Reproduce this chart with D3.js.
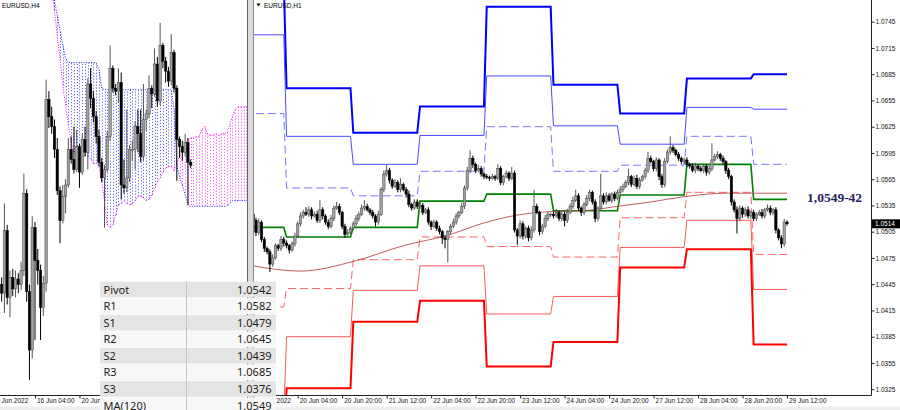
<!DOCTYPE html>
<html><head><meta charset="utf-8">
<script src="https://cdn.jsdelivr.net/npm/d3@7"></script>
<style>body{margin:0;background:#fff;}svg{display:block;}</style>
</head><body>
<svg id="c" width="900" height="410"></svg>
<script>
// ---------- DATA ----------
// H1 EURUSD, 17 Jun 12:00 .. 29 Jun 12:00 (193 bars)
const h1Open0 = 1.0525;
const h1Close = [
1.0518,1.0504,1.0516,1.0496,1.0486,1.0482,1.0468,1.0475,1.0489,1.0486,1.0496,1.0492,
1.0489,1.0484,1.0491,1.0500,1.0514,1.0523,1.0527,1.0525,1.0530,1.0523,1.0525,1.0518,1.0530,1.0523,1.0516,1.0511,1.0520,1.0532,1.0534,1.0527,1.0511,1.0502,1.0504,1.0509,
1.0514,1.0520,1.0525,1.0532,1.0534,1.0530,1.0527,1.0523,1.0516,1.0525,1.0553,1.0571,1.0575,1.0564,1.0557,1.0561,1.0553,1.0559,1.0553,1.0548,1.0536,1.0532,1.0539,1.0534,
1.0535,1.0527,1.0530,1.0516,1.0511,1.0516,1.0509,1.0505,1.0498,1.0496,1.0505,1.0511,1.0516,1.0523,1.0527,1.0534,1.0555,1.0575,1.0589,1.0582,1.0575,1.0577,1.0571,1.0568,
1.0567,1.0566,1.0568,1.0566,1.0577,1.0561,1.0568,1.0572,1.0566,1.0572,1.0507,1.0500,1.0514,1.0500,1.0509,1.0498,1.0507,1.0534,1.0527,1.0505,1.0511,1.0520,1.0525,1.0525,
1.0523,1.0527,1.0520,1.0525,1.0518,1.0527,1.0534,1.0541,1.0546,1.0532,1.0527,1.0536,1.0543,1.0550,1.0539,1.0520,1.0532,1.0546,1.0539,1.0546,1.0541,1.0548,1.0543,1.0550,
1.0553,1.0557,1.0561,1.0568,1.0559,1.0566,1.0557,1.0564,1.0568,1.0575,1.0589,1.0585,1.0577,1.0587,1.0568,1.0559,1.0585,1.0596,1.0601,1.0598,1.0593,1.0589,1.0585,1.0587,
1.0582,1.0580,1.0575,1.0580,1.0577,1.0575,1.0580,1.0573,1.0577,1.0587,1.0591,1.0593,1.0589,1.0585,1.0575,1.0568,1.0539,1.0530,1.0520,1.0532,1.0525,1.0530,1.0523,1.0527,
1.0520,1.0525,1.0527,1.0523,1.0530,1.0532,1.0527,1.0530,1.0507,1.0498,1.0491,1.0516,1.0514];
// upper / lower wick lengths in pips
const h1WickUp = [
8,3,4,2,3,2,3,4,3,2,4,3,
3,2,3,4,3,4,3,6,4,3,3,4,11,3,2,3,4,3,5,3,2,3,4,2,
3,4,3,4,7,3,2,3,2,4,3,4,7,3,2,4,3,7,2,3,4,2,3,3,
4,3,2,3,2,3,2,3,2,3,2,3,4,3,2,4,3,4,9,3,2,4,3,2,
3,2,3,2,5,3,2,3,2,7,3,2,4,3,2,3,4,19,3,2,3,4,3,2,
3,4,2,3,3,4,3,4,7,3,2,3,4,3,2,3,2,25,3,4,3,2,3,3,
4,3,3,9,2,3,4,3,2,3,7,3,2,3,2,3,4,3,13,3,2,3,2,3,
3,2,3,4,2,3,3,2,4,19,3,4,2,3,2,3,2,3,4,3,2,3,4,2,
3,2,3,4,2,4,3,2,3,2,3,4,2];
const h1WickDn = [
3,4,3,3,4,3,9,3,2,3,3,4,
3,4,2,3,2,3,3,2,3,4,2,3,3,4,3,3,2,3,2,3,3,4,3,2,
2,3,3,2,3,2,3,3,5,3,2,3,3,4,3,2,3,3,2,4,3,3,2,3,
3,3,2,3,4,2,3,3,7,10,26,3,2,3,3,2,3,3,3,4,3,2,3,3,
2,3,2,3,2,3,3,2,3,2,3,10,3,4,3,4,3,3,2,4,3,2,3,3,
3,2,3,3,7,3,2,3,2,3,4,3,2,3,3,4,3,2,3,3,2,3,3,2,
3,3,2,3,3,2,3,3,2,3,3,2,3,3,4,4,3,2,3,3,2,3,3,3,
3,3,2,3,3,2,3,4,3,3,2,3,3,3,4,3,4,3,17,3,4,3,3,4,
3,3,2,3,3,2,3,3,4,3,5,3,2];

// daily pivot levels (day 0 = 17 Jun ... day 8 = 29 Jun)
const dayStart = [-12, 12, 36, 60, 84, 108, 132, 156, 180];
const dayEnd   = [ 11, 35, 59, 83, 107, 131, 155, 179, 192];
const R3 = [1.0790,1.0669,1.0618,1.0648,1.0762,1.0673,1.0640,1.0680,1.0685];
const R2 = [1.0730,1.0614,1.0582,1.0615,1.0683,1.0626,1.0605,1.0647,1.0645];
const R1 = [1.0640,1.0555,1.0546,1.0574,1.0625,1.0574,1.0581,1.0614,1.0582];
const PV = [1.0510,1.0499,1.0510,1.0540,1.0548,1.0529,1.0547,1.0582,1.0542];
const S1 = [1.0419,1.0440,1.0473,1.0499,1.0488,1.0476,1.0521,1.0550,1.0479];
const S2 = [1.0300,1.0385,1.0438,1.0466,1.0411,1.0431,1.0487,1.0518,1.0439];
const S3 = [1.0240,1.0326,1.0402,1.0426,1.0351,1.0379,1.0464,1.0485,1.0376];

// MA(120) knots (bar index, value)
const maIdx = [0, 8, 17, 36, 54, 70, 83, 95, 107, 119, 131, 143, 155, 170, 192];
const maVal = [1.0466,1.0462,1.0460,1.0471,1.0489,1.0501,1.0515,1.0524,1.0528,1.0529,1.0534,1.0539,1.0545,1.0549,1.0549];

const priceTicks = [1.0745,1.0715,1.0685,1.0655,1.0625,1.0595,1.0565,1.0535,1.0505,1.0475,1.0445,1.0415,1.0385,1.0355,1.0325];
const labelIdxR = [0,16,32,48,64,80,96,112,128,144,160,176,192];
const labelsR = ['17 Jun 2022','20 Jun 04:00','20 Jun 20:00','21 Jun 12:00','22 Jun 04:00','22 Jun 20:00','23 Jun 12:00','24 Jun 04:00','24 Jun 20:00','27 Jun 12:00','28 Jun 04:00','28 Jun 20:00','29 Jun 12:00'];
const lastPrice = 1.0514;

// H4 bars before 17 Jun 12:00 (k = -12 .. 7, k=0 is 16 Jun 04:00)
const h4Open  = [1.0430,1.0424,1.0468,1.0421,1.0435,1.0427,1.0434,1.0430,1.0440,1.0494,1.0425,1.0384,1.0470,1.0447,1.0440,1.0414,1.0431,1.0560,1.0548,1.0541];
const h4High  = [1.0435,1.0487,1.0472,1.0440,1.0441,1.0440,1.0438,1.0446,1.0508,1.0497,1.0430,1.0478,1.0474,1.0455,1.0444,1.0436,1.0574,1.0566,1.0555,1.0546];
const h4Low   = [1.0418,1.0410,1.0416,1.0407,1.0422,1.0421,1.0424,1.0426,1.0436,1.0418,1.0363,1.0378,1.0391,1.0430,1.0391,1.0408,1.0425,1.0540,1.0536,1.0519];
const h4Close = [1.0424,1.0468,1.0421,1.0435,1.0427,1.0434,1.0430,1.0440,1.0494,1.0425,1.0384,1.0470,1.0447,1.0440,1.0414,1.0431,1.0560,1.0548,1.0541,1.0525];
// Ichimoku cloud spans, k = 6 .. 76
const cloudK0 = 6;
const spanA = [
1.0637,1.0623,1.0605,1.0588,1.0570,1.0556,1.0542,1.0530,1.0523,1.0521,
1.0518,1.0519,1.0521,1.0520,1.0518,1.0515,1.0515,1.0513,1.0503,1.0489,
1.0472,1.0470,1.0472,1.0479,1.0486,1.0487,1.0489,1.0487,1.0486,1.0487,
1.0489,1.0492,1.0492,1.0491,1.0489,1.0490,1.0493,1.0498,1.0502,1.0505,
1.0509,1.0512,1.0513,1.0513,1.0510,1.0515,1.0521,1.0526,1.0529,1.0532,
1.0533,1.0533,1.0534,1.0534,1.0539,1.0541,1.0536,1.0535,1.0535,1.0536,
1.0535,1.0536,1.0536,1.0537,1.0542,1.0548,1.0553,1.0555,1.0555,1.0555,1.0555];
const spanB = [
1.0644,1.0630,1.0619,1.0609,1.0598,1.0589,1.0586,1.0586,1.0586,1.0586,
1.0586,1.0586,1.0586,1.0586,1.0586,1.0586,1.0586,1.0581,1.0568,1.0567,
1.0567,1.0567,1.0567,1.0567,1.0567,1.0567,1.0567,1.0567,1.0567,1.0567,
1.0567,1.0567,1.0567,1.0567,1.0567,1.0567,1.0567,1.0567,1.0567,1.0567,
1.0567,1.0567,1.0567,1.0567,1.0553,1.0514,1.0505,1.0500,1.0493,1.0486,
1.0485,1.0485,1.0485,1.0485,1.0485,1.0485,1.0485,1.0485,1.0485,1.0485,
1.0485,1.0485,1.0485,1.0485,1.0487,1.0489,1.0489,1.0489,1.0489,1.0489,1.0489];
const labelIdxL = [-16, 0, 16];
const labelsL = ['13 Jun 2022','16 Jun 04:00','20 Jun 20:00'];

const tableLabels = ['Pivot','R1','S1','R2','S2','R3','S3','MA(120)'];
const tableValues = ['1.0542','1.0582','1.0479','1.0645','1.0439','1.0685','1.0376','1.0549'];
const noteText = '1,0549-42';

// ---------- BUILD ----------
const pip = 0.0001;
const h1 = h1Close.map((c, i) => {
  const o = i ? h1Close[i - 1] : h1Open0;
  return {k: i, o, c, h: Math.max(o, c) + h1WickUp[i] * pip, l: Math.min(o, c) - h1WickDn[i] * pip};
});
const h4 = h4Close.map((c, j) => ({k: j - 12, o: h4Open[j], h: h4High[j], l: h4Low[j], c}));
for (let k = 8; k <= 56; k++) {
  const s = h1.slice(4 * (k - 8), 4 * (k - 8) + 4);
  h4.push({k, o: s[0].o, c: s[s.length - 1].c, h: d3.max(s, d => d.h), l: d3.min(s, d => d.l)});
}

const svg = d3.select('#c');
const FONT = 'Liberation Sans, Arial, sans-serif';
const defs = svg.append('defs');
defs.append('clipPath').attr('id','clipR').append('rect').attr('x',254).attr('y',0).attr('width',617).attr('height',395);
defs.append('clipPath').attr('id','clipL').append('rect').attr('x',0).attr('y',0).attr('width',247).attr('height',395);
defs.append('clipPath').attr('id','clipLA').append('rect').attr('x',0).attr('y',395).attr('width',247).attr('height',15);

svg.append('rect').attr('width',900).attr('height',410).attr('fill','#fff');

function drawCandles(g, data, x, y) {
  const gg = g.append('g');
  gg.selectAll('line').data(data).join('line')
    .attr('x1', d => x(d.k)).attr('x2', d => x(d.k))
    .attr('y1', d => y(d.h)).attr('y2', d => y(d.l))
    .attr('stroke', d => d.c >= d.o ? '#555' : '#000').attr('stroke-width', 1);
  gg.selectAll('rect').data(data).join('rect')
    .attr('x', d => x(d.k) - 1.2).attr('width', 2.4)
    .attr('y', d => y(Math.max(d.o, d.c)))
    .attr('height', d => Math.max(0.8, y(Math.min(d.o, d.c)) - y(Math.max(d.o, d.c))))
    .attr('fill', d => d.c >= d.o ? '#a2a2a2' : '#000')
    .attr('stroke', d => d.c >= d.o ? '#444' : '#000').attr('stroke-width', 0.5);
}

// ---------- RIGHT PANEL (H1) ----------
const xR = d3.scaleLinear().domain([0, 192]).range([253.2, 787]);
const yR = d3.scaleLinear().domain([1.0745, 1.0325]).range([21.7, 389.2]);
const gR = svg.append('g').attr('clip-path','url(#clipR)');

const levelDefs = [
  {v: R3, c: '#0000ff', w: 2, dash: null},
  {v: R2, c: '#4a4aff', w: 1, dash: null},
  {v: R1, c: '#7878ff', w: 1, dash: '8,4'},
  {v: S1, c: '#ff6464', w: 1, dash: '8,4'},
  {v: S2, c: '#ff5a5a', w: 1, dash: null},
  {v: S3, c: '#ff0000', w: 2, dash: null},
  {v: PV, c: '#008000', w: 1.6, dash: null}
];
const stepLine = d3.line().x(p => xR(p[0])).y(p => yR(p[1]));
levelDefs.forEach(L => {
  const pts = L.v.flatMap((v, d) => [[dayStart[d], v], [dayEnd[d], v]]);
  gR.append('path').attr('d', stepLine(pts)).attr('fill','none')
    .attr('stroke', L.c).attr('stroke-width', L.w)
    .attr('stroke-dasharray', L.dash);
});
const maLine = d3.line().curve(d3.curveMonotoneX).x((d, i) => xR(maIdx[i])).y(d => yR(d));
gR.append('path').attr('d', maLine(maVal)).attr('fill','none').attr('stroke','#b84a4a').attr('stroke-width',1).attr('opacity',0.9);

drawCandles(gR, h1, xR, yR);

// right axes
svg.append('line').attr('x1',871.5).attr('x2',871.5).attr('y1',0).attr('y2',395.5).attr('stroke','#222');
svg.append('line').attr('x1',253).attr('x2',871.5).attr('y1',395.5).attr('y2',395.5).attr('stroke','#222');
const axR = svg.append('g').attr('transform','translate(871.5,0)')
  .call(d3.axisRight(yR).tickValues(priceTicks).tickSize(3).tickPadding(1).tickFormat(d3.format('.4f')));
axR.select('.domain').remove();
axR.selectAll('line').attr('stroke','#222');
axR.selectAll('text').attr('font-size',6.5).attr('font-family',FONT).attr('fill','#111');

const axB = svg.append('g').attr('transform','translate(0,395.5)')
  .call(d3.axisBottom(xR).tickValues(labelIdxR).tickSize(3).tickPadding(0).tickFormat((d, i) => labelsR[i]));
axB.select('.domain').remove();
axB.selectAll('line').attr('stroke','#222');
axB.selectAll('text').attr('text-anchor','start').attr('x',1.5).attr('font-size',6.5).attr('font-family',FONT).attr('fill','#111');

// last price box
svg.append('rect').attr('x',872).attr('y',yR(lastPrice) - 4.5).attr('width',28).attr('height',9).attr('fill','#000');
svg.append('text').attr('x',875).attr('y',yR(lastPrice) + 2.3).text(d3.format('.4f')(lastPrice))
  .attr('font-size',6.5).attr('font-family',FONT).attr('fill','#fff');

// title
svg.append('path').attr('d','M256.5,3.5 L260.5,3.5 L258.5,6.5 Z').attr('fill','#000');
svg.append('text').attr('x',264).attr('y',7.5).text('EURUSD,H1').attr('font-size',6.5).attr('font-family',FONT).attr('fill','#000');

// annotation
svg.append('text').attr('x',807).attr('y',201.5).text(noteText)
  .attr('font-size',13.5).attr('font-weight','bold').attr('font-family','Liberation Serif, Times New Roman, serif').attr('fill','#1f2160');

// ---------- LEFT PANEL (H4) ----------
const xL = d3.scaleLinear().domain([0, 56]).range([35, 190.7]);
const yL = d3.scaleLinear().domain([1.0630, 1.03524]).range([0, 395]);
const gL = svg.append('g').attr('clip-path','url(#clipL)');

const cloud = spanA.map((a, j) => ({k: cloudK0 + j, a, b: spanB[j]}));
gL.append('g').selectAll('line').data(cloud).join('line')
  .attr('x1', d => Math.round(xL(d.k)) + 0.5).attr('x2', d => Math.round(xL(d.k)) + 0.5)
  .attr('y1', d => yL(d.a)).attr('y2', d => yL(d.b))
  .attr('stroke', d => d.a > d.b ? '#ff3cff' : '#4646ff')
  .attr('stroke-width', 1).attr('stroke-dasharray','1,2');
gL.append('path').attr('d', d3.line().x(d => xL(d.k)).y(d => yL(d.a))(cloud)).attr('fill','none').attr('stroke','#ff00ff').attr('stroke-width',1).attr('stroke-dasharray','1,1.5');
gL.append('path').attr('d', d3.line().x(d => xL(d.k)).y(d => yL(d.b))(cloud)).attr('fill','none').attr('stroke','#2020ff').attr('stroke-width',1).attr('stroke-dasharray','1,1.5');

drawCandles(gL, h4, xL, yL);

svg.append('line').attr('x1',0).attr('x2',247).attr('y1',395.5).attr('y2',395.5).attr('stroke','#222');
const axL = svg.append('g').attr('clip-path','url(#clipLA)').append('g').attr('transform','translate(0,395.5)')
  .call(d3.axisBottom(xL).tickValues(labelIdxL).tickSize(3).tickPadding(0).tickFormat((d, i) => labelsL[i]));
axL.select('.domain').remove();
axL.selectAll('line').attr('stroke','#222');
axL.selectAll('text').attr('text-anchor','start').attr('x',1.5).attr('font-size',6.5).attr('font-family',FONT).attr('fill','#111');

svg.append('text').attr('x',2).attr('y',7.5).text('EURUSD,H4').attr('font-size',6.5).attr('font-family',FONT).attr('fill','#000');

// splitter between panels
svg.append('rect').attr('x',248).attr('y',0).attr('width',5).attr('height',410).attr('fill','#dcdcdc');
svg.append('line').attr('x1',247.5).attr('x2',247.5).attr('y1',0).attr('y2',410).attr('stroke','#666');
svg.append('line').attr('x1',253.5).attr('x2',253.5).attr('y1',0).attr('y2',410).attr('stroke','#8a8a8a');
svg.append('rect').attr('x',0).attr('y',406.5).attr('width',900).attr('height',4).attr('fill','#efefef');

// ---------- TABLE ----------
const tbl = svg.append('g');
const rowTop = 281.7, rowH = 16.55;
tableLabels.forEach((lab, i) => {
  const y0 = rowTop + i * rowH;
  const fill = i % 2 === 0 ? '#e4e4e4' : '#f7f7f7';
  tbl.append('rect').attr('x',100).attr('y',y0).attr('width',176).attr('height',rowH - 0.8).attr('fill',fill);
  tbl.append('text').attr('x',103.5).attr('y',y0 + 12).text(lab)
    .attr('font-size',11).attr('font-family','Noto Sans, Open Sans, sans-serif').attr('fill','#1c1c1c');
  tbl.append('text').attr('x',271.5).attr('y',y0 + 12).attr('text-anchor','end').text(tableValues[i])
    .attr('font-size',11).attr('font-family','Noto Sans, Open Sans, sans-serif').attr('fill','#1c1c1c');
});
tbl.append('line').attr('x1',186.5).attr('x2',186.5).attr('y1',rowTop).attr('y2',410).attr('stroke','#c4c4c4');
</script>
</body></html>
